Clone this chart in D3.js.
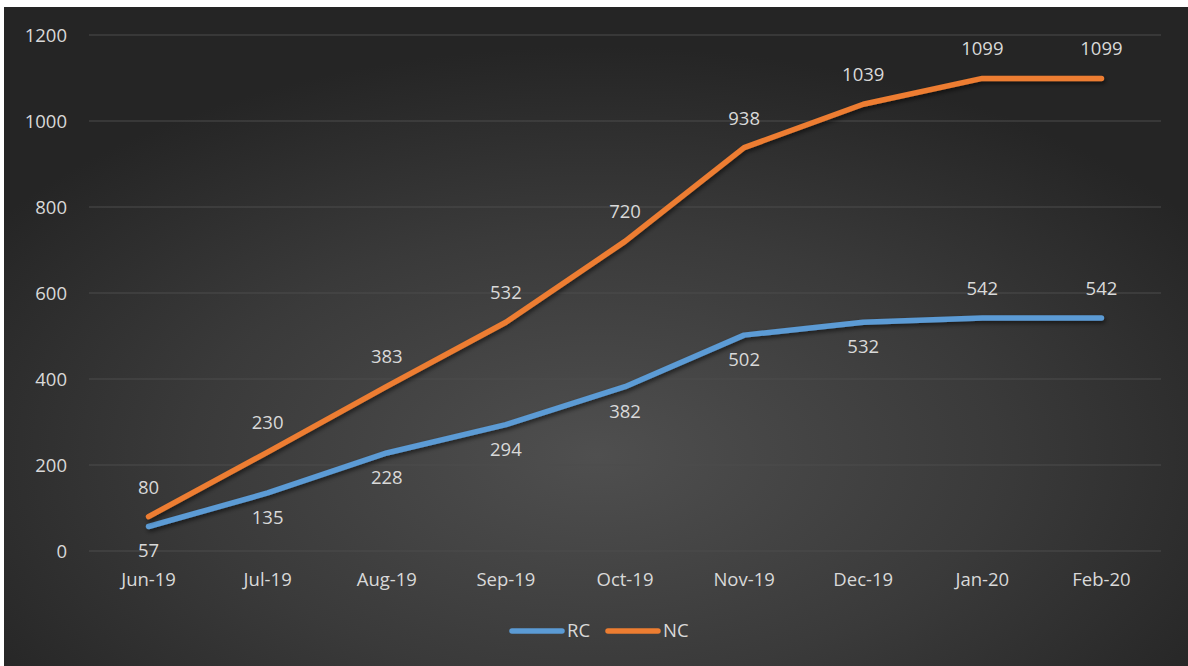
<!DOCTYPE html>
<html><head><meta charset="utf-8">
<script src="https://cdn.jsdelivr.net/npm/d3@7"></script>
<style>html,body{margin:0;padding:0;background:#fff;}svg{display:block;}</style>
</head><body>
<script>
const categories = ["Jun-19","Jul-19","Aug-19","Sep-19","Oct-19","Nov-19","Dec-19","Jan-20","Feb-20"];
const rcValues = [57,135,228,294,382,502,532,542,542];
const ncValues = [80,230,383,532,720,938,1039,1099,1099];
const yTicks = [0,200,400,600,800,1000,1200];
const rcLabelSide = ["below","below","below","below","below","below","below","above","above"];
const ncLabelSide = ["above","above","above","above","above","above","above","above","above"];

const W = 1188, H = 666;
const svg = d3.select("body").append("svg").attr("width", W).attr("height", H);
const defs = svg.append("defs");
const grad = defs.append("radialGradient").attr("id","bg")
  .attr("cx","0.5").attr("cy","0.68").attr("r","0.62").attr("fx","0.5").attr("fy","0.68");
grad.append("stop").attr("offset","0%").attr("stop-color","#4f4f4f");
grad.append("stop").attr("offset","55%").attr("stop-color","#3a3a3a");
grad.append("stop").attr("offset","100%").attr("stop-color","#252525");
const sh = defs.append("filter").attr("id","shadow").attr("x","-10%").attr("y","-10%").attr("width","120%").attr("height","130%");
sh.append("feDropShadow").attr("dx",1.5).attr("dy",2.5).attr("stdDeviation",2).attr("flood-color","#000").attr("flood-opacity",0.55);

svg.append("rect").attr("x",4).attr("y",7).attr("width",W-4).attr("height",H-7).attr("fill","url(#bg)");

const x = d3.scaleBand().domain(categories).range([89,1161]);
const y = d3.scaleLinear().domain([0,1200]).range([551,35]);
const cx = d => x(d) + x.bandwidth()/2;
const font = "'Open Sans', 'Noto Sans', sans-serif";
const txt = "#d9d9d9";
const fs = 18.5;

// gridlines
svg.append("g").selectAll("line").data(yTicks).join("line")
  .attr("x1",89).attr("x2",1161).attr("y1",d=>y(d)).attr("y2",d=>y(d))
  .attr("stroke","#4d4d4d").attr("stroke-width",1.2);

// y axis labels
const yAxis = d3.axisLeft(y).tickValues(yTicks).tickSize(0).tickPadding(0).tickFormat(d3.format("d"));
const gy = svg.append("g").attr("transform","translate(67,0)").call(yAxis);
gy.select(".domain").remove();
gy.selectAll("text").attr("fill",txt).attr("font-family",font).attr("font-size",fs).attr("dy","0.35em");

// x axis labels
const xAxis = d3.axisBottom(x).tickSize(0).tickPadding(0);
const gx = svg.append("g").attr("transform","translate(0,573)").call(xAxis);
gx.select(".domain").remove();
gx.selectAll("text").attr("fill",txt).attr("font-family",font).attr("font-size",fs).attr("dy","0.71em");

const line = d3.line().x((d,i)=>cx(categories[i])).y(d=>y(d));
const series = [
  {name:"RC", values:rcValues, color:"#5b9bd5", side:rcLabelSide},
  {name:"NC", values:ncValues, color:"#ed7d31", side:ncLabelSide}
];
series.forEach(s=>{
  svg.append("path").datum(s.values).attr("d",line)
    .attr("fill","none").attr("stroke",s.color).attr("stroke-width",5.5)
    .attr("stroke-linecap","round").attr("stroke-linejoin","round")
    .attr("filter","url(#shadow)");
});
series.forEach(s=>{
  svg.append("g").selectAll("text").data(s.values).join("text")
    .attr("x",(d,i)=>cx(categories[i]))
    .attr("y",(d,i)=> s.side[i]==="above" ? y(d)-28 : y(d)+26)
    .attr("text-anchor","middle").attr("dominant-baseline","middle")
    .attr("fill",txt).attr("font-family",font).attr("font-size",fs)
    .text(d=>d);
});

// legend
const leg = svg.append("g");
const legItems = [{name:"RC",color:"#5b9bd5",x:512},{name:"NC",color:"#ed7d31",x:608}];
legItems.forEach(l=>{
  leg.append("line").attr("x1",l.x).attr("x2",l.x+50).attr("y1",631).attr("y2",631)
    .attr("stroke",l.color).attr("stroke-width",5.5).attr("stroke-linecap","round");
  leg.append("text").attr("x",l.x+55).attr("y",632).attr("dominant-baseline","middle")
    .attr("fill",txt).attr("font-family",font).attr("font-size",fs).text(l.name);
});
</script>
</body></html>
